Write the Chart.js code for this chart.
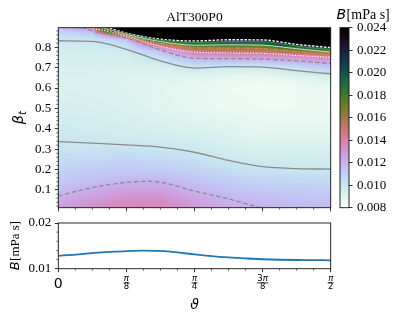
<!DOCTYPE html>
<html>
<head>
<meta charset="utf-8">
<script src="https://cdn.jsdelivr.net/npm/chart.js@4.4.0/dist/chart.umd.min.js"></script>
<style>
  html, body { margin: 0; padding: 0; background: #fff; }
  #wrap { position: relative; width: 397px; height: 322px; }
  #wrap canvas { position: absolute; left: 0; top: 0; }
</style>
</head>
<body>
<div id="wrap">
  <canvas id="main" width="397" height="322"></canvas>
  <canvas id="cbar" width="397" height="322"></canvas>
  <canvas id="line" width="397" height="322"></canvas>
</div>
<script>
// ---- axes / ticks ----
const THETA_MAX = 1.5708;
const THETA_TICKS = [0, 0.392699, 0.785398, 1.178097, 1.570796];
const THETA_NUM = ["0", "π", "π", "3π", "π"];
const THETA_DEN = ["", "8", "4", "8", "2"];
const BETA_MIN = 0.013, BETA_MAX = 0.896;
const BETA_TICKS = [0.1, 0.2, 0.3, 0.4, 0.5, 0.6, 0.7, 0.8];
const CB_MIN = 0.008, CB_MAX = 0.024;
const CB_TICKS = [0.008, 0.010, 0.012, 0.014, 0.016, 0.018, 0.020, 0.022, 0.024];
const LINE_Y_TICKS = [0.01, 0.02];
const LINE_Y_MINOR = [0.012, 0.014, 0.016, 0.018];

// ---- heatmap grid: B [mPa s] ----
const THETA_GRID = [0, 0.19635, 0.39270, 0.58905, 0.78540, 0.98175, 1.17810, 1.37445, 1.57080];
const BETA_GRID = [0, .05, .10, .15, .20, .25, .30, .35, .40, .50, .60, .65, .70, .75, .78, .80, .82, .84, .86, .88, .90];
const B_T0 = [0.0128, 0.0123, 0.0117, 0.0112, 0.0108, 0.0105, 0.01015, 0.00995, 0.0098, 0.0095, 0.0093, 0.0093, 0.0094, 0.0095, 0.0096, 0.0097, 0.0099, 0.01005, 0.0104, 0.0109, 0.0115];
const B_T1 = [0.01343, 0.0129, 0.0122, 0.0115, 0.0111, 0.0106, 0.0102, 0.00988, 0.0097, 0.0094, 0.0093, 0.0093, 0.0094, 0.0095, 0.0096, 0.0097, 0.0099, 0.0102, 0.0108, 0.0120, 0.0138];
const B_T2 = [0.01385, 0.0134, 0.0127, 0.0118, 0.0112, 0.0107, 0.01015, 0.0098, 0.0096, 0.0093, 0.0092, 0.0092, 0.0093, 0.0095, 0.0098, 0.0102, 0.0107, 0.0117, 0.0160, 0.030, 0.035];
const B_T3 = [0.01385, 0.0134, 0.0127, 0.0118, 0.0111, 0.0106, 0.01008, 0.0097, 0.0094, 0.0091, 0.0090, 0.0091, 0.0094, 0.0104, 0.0115, 0.0135, 0.0161, 0.0230, 0.032, 0.035, 0.035];
const B_T4 = [0.01312, 0.0126, 0.01195, 0.0114, 0.0108, 0.0103, 0.0099, 0.0096, 0.0093, 0.0089, 0.0088, 0.0090, 0.0100, 0.0122, 0.0146, 0.0168, 0.0196, 0.0260, 0.033, 0.035, 0.035];
const B_T5 = [0.01245, 0.0120, 0.0115, 0.0110, 0.0104, 0.00995, 0.0096, 0.0093, 0.0091, 0.0087, 0.0086, 0.0088, 0.0097, 0.0125, 0.0150, 0.0167, 0.0190, 0.0233, 0.030, 0.035, 0.035];
const B_T6 = [0.01207, 0.0117, 0.0112, 0.0107, 0.01015, 0.0097, 0.0094, 0.0091, 0.0089, 0.0086, 0.0085, 0.0087, 0.0098, 0.0126, 0.0151, 0.0168, 0.0190, 0.0230, 0.030, 0.035, 0.035];
const B_T7 = [0.0119, 0.01155, 0.0111, 0.0106, 0.01005, 0.0097, 0.0094, 0.0091, 0.0089, 0.0086, 0.0086, 0.0090, 0.0104, 0.0130, 0.0162, 0.0190, 0.0240, 0.030, 0.035, 0.035, 0.035];
const B_T8 = [0.01184, 0.0115, 0.0110, 0.0105, 0.01003, 0.0097, 0.0094, 0.0091, 0.0089, 0.0086, 0.0087, 0.0094, 0.0112, 0.0137, 0.0168, 0.0215, 0.0265, 0.032, 0.035, 0.035, 0.035];
const B_GRID = [B_T0, B_T1, B_T2, B_T3, B_T4, B_T5, B_T6, B_T7, B_T8];

// ---- contour lines (beta position along theta) ----
const LOW_010_X = THETA_GRID;
const LOW_010_Y = [0.337, 0.330, 0.321, 0.310, 0.285, 0.245, 0.214, 0.205, 0.202];
const LOW_012_X = [0, 0.19635, 0.39270, 0.52, 0.58905, 0.78540, 0.98175, 1.17810];
const LOW_012_Y = [0.071, 0.112, 0.137, 0.143, 0.138, 0.095, 0.056, 0.010];
const UP_010_X = THETA_GRID;
const UP_010_Y = [0.832, 0.829, 0.790, 0.733, 0.698, 0.705, 0.703, 0.685, 0.670];
const UP_012_X = [0.135, 0.19635, 0.39270, 0.58905, 0.78540, 0.98175, 1.17810, 1.37445, 1.57080];
const UP_012_Y = [0.900, 0.880, 0.845, 0.787, 0.746, 0.744, 0.742, 0.733, 0.721];
const UP_HI_X = [0.39270, 0.58905, 0.78540, 0.98175, 1.17810, 1.37445, 1.57080];
const UP_014_Y = [0.855, 0.805, 0.776, 0.772, 0.770, 0.760, 0.751];
const UP_016_Y = [0.860, 0.818, 0.797, 0.796, 0.793, 0.779, 0.763];
const UP_018_Y = [0.863, 0.828, 0.810, 0.812, 0.810, 0.793, 0.776];
const UP_020_Y = [0.866, 0.835, 0.823, 0.828, 0.827, 0.806, 0.788];
const UP_022_Y = [0.869, 0.840, 0.831, 0.837, 0.836, 0.814, 0.798];
const UP_START = [0.171, 0.212, 0.235, 0.252, 0.275];   // where each reaches the top edge

// ---- lower panel: B along theta ----
const LINE_THETA = [0, 0.09817, 0.19635, 0.29452, 0.39270, 0.49087, 0.58905, 0.68722, 0.78540,
                    0.88357, 0.98175, 1.07992, 1.17810, 1.27627, 1.37445, 1.47262, 1.57080];
const LINE_B = [0.01282, 0.01307, 0.01343, 0.01366, 0.01385, 0.01395, 0.01388, 0.01357, 0.01312,
                0.01274, 0.01246, 0.01225, 0.01207, 0.01196, 0.01190, 0.01187, 0.01184];

Chart.defaults.font.family = "'Liberation Serif', serif";
Chart.defaults.font.size = 13;
Chart.defaults.color = "#000";

// cubehelix, reversed (white = low, black = high)
function cmap(v) {
    let t = (v - CB_MIN) / (CB_MAX - CB_MIN);
    t = Math.max(0, Math.min(1, t));
    const x = 1 - t;
    const a = x * (1 - x) / 2;
    const phi = 2 * Math.PI * (0.5 / 3 - 1.5 * x);
    const c = Math.cos(phi), s = Math.sin(phi);
    const r = x + a * (-0.14861 * c + 1.78277 * s);
    const g = x + a * (-0.29227 * c - 0.90649 * s);
    const b = x + a * (1.97294 * c);
    const f = (u) => Math.round(255 * Math.max(0, Math.min(1, u)));
    return [f(r), f(g), f(b)];
}

function findCell(arr, v) {
    if (v <= arr[0]) return [0, 0];
    for (let i = 0; i < arr.length - 1; i++) {
        if (v <= arr[i + 1]) return [i, (v - arr[i]) / (arr[i + 1] - arr[i])];
    }
    return [arr.length - 2, 1];
}

// gouraud-like shading of the grid
function sampleGrid(th, be) {
    const [i, fx] = findCell(THETA_GRID, th);
    const [j, fy] = findCell(BETA_GRID, be);
    const v00 = B_GRID[i][j], v10 = B_GRID[i + 1][j];
    const v01 = B_GRID[i][j + 1], v11 = B_GRID[i + 1][j + 1];
    return (v00 * (1 - fx) + v10 * fx) * (1 - fy) + (v01 * (1 - fx) + v11 * fx) * fy;
}

function pts(xs, ys) {
    return xs.map((x, i) => ({ x: x, y: ys[i] }));
}

function contour(xs, ys, color, width, dash) {
    return {
        data: pts(xs, ys),
        showLine: true,
        borderColor: color,
        borderWidth: width,
        borderDash: dash || [],
        pointRadius: 0,
        cubicInterpolationMode: "monotone",
        clip: 0
    };
}

function minorList(step, count, skip) {
    const out = [];
    for (let k = 1; k < count; k++) if (k % skip !== 0) out.push(k * step);
    return out;
}

const THETA_MINOR = minorList(THETA_MAX / 16, 16, 4);
const BETA_MINOR = minorList(0.02, 45, 5);

// ============================
// plugins
// ============================
const heatmapPlugin = {
    id: "heatmap",
    beforeDatasetsDraw(chart) {
        const { ctx, chartArea: a, scales } = chart;
        const x0 = Math.floor(a.left), y0 = Math.floor(a.top);
        const w = Math.ceil(a.right) - x0, h = Math.ceil(a.bottom) - y0;
        const off = document.createElement("canvas");
        off.width = w; off.height = h;
        const octx = off.getContext("2d");
        const img = octx.createImageData(w, h);
        for (let py = 0; py < h; py++) {
            const be = scales.y.getValueForPixel(y0 + py + 0.5);
            for (let px = 0; px < w; px++) {
                const th = scales.x.getValueForPixel(x0 + px + 0.5);
                const c = cmap(sampleGrid(th, be));
                const o = (py * w + px) * 4;
                img.data[o] = c[0]; img.data[o + 1] = c[1]; img.data[o + 2] = c[2]; img.data[o + 3] = 255;
            }
        }
        octx.putImageData(img, 0, 0);
        ctx.save();
        ctx.beginPath();
        ctx.rect(a.left, a.top, a.right - a.left, a.bottom - a.top);
        ctx.clip();
        ctx.drawImage(off, x0, y0);
        ctx.restore();
    }
};

const colorbarPlugin = {
    id: "colorbar",
    beforeDatasetsDraw(chart) {
        const { ctx, chartArea: a, scales } = chart;
        for (let py = Math.floor(a.top); py < Math.ceil(a.bottom); py++) {
            const c = cmap(scales.y.getValueForPixel(py + 0.5));
            ctx.fillStyle = `rgb(${c[0]},${c[1]},${c[2]})`;
            ctx.fillRect(a.left, Math.max(py, a.top), a.right - a.left, 1);
        }
    }
};

const minorPlugin = {
    id: "minor",
    afterDraw(chart, args, opts) {
        const { ctx, chartArea: a, scales } = chart;
        ctx.save();
        ctx.strokeStyle = "#000";
        ctx.lineWidth = 0.6;
        ctx.beginPath();
        for (const v of (opts.x || [])) {
            const px = scales.x.getPixelForValue(v);
            ctx.moveTo(px, a.bottom); ctx.lineTo(px, a.bottom + 2);
        }
        for (const v of (opts.y || [])) {
            const py = scales.y.getPixelForValue(v);
            ctx.moveTo(a.left, py); ctx.lineTo(a.left - 2, py);
        }
        ctx.stroke();
        ctx.restore();
    }
};

const framePlugin = {
    id: "frame",
    afterDraw(chart) {
        const { ctx, chartArea: a } = chart;
        ctx.save();
        ctx.strokeStyle = "#111";
        ctx.lineWidth = 0.9;
        ctx.strokeRect(a.left, a.top, a.right - a.left, a.bottom - a.top);
        ctx.restore();
    }
};

function drawLabelB(ctx, x, y, size, rotate) {
    // italic sans B followed by serif [mPa s], left edge at x (or centred when rotated)
    ctx.save();
    ctx.textBaseline = "alphabetic";
    const fB = `italic ${size}px 'DejaVu Sans'`;
    const fU = `${size}px 'Liberation Serif'`;
    ctx.font = fB; const wB = ctx.measureText("B").width;
    ctx.font = fU; const wU = ctx.measureText("[mPa s]").width;
    ctx.translate(x, y);
    let sx = 0;
    if (rotate) { ctx.rotate(-Math.PI / 2); sx = -(wB + wU) / 2; }
    ctx.font = fB; ctx.fillText("B", sx, 0);
    ctx.font = fU; ctx.fillText("[mPa s]", sx + wB + 0.5, 0);
    ctx.restore();
}

const mainText = {
    id: "mainText",
    afterDraw(chart) {
        const { ctx, chartArea: a } = chart;
        ctx.save();
        ctx.fillStyle = "#000";
        ctx.font = "13.5px 'Liberation Serif'";
        ctx.textAlign = "center";
        ctx.textBaseline = "alphabetic";
        ctx.fillText("AlT300P0", (a.left + a.right) / 2, 21);
        // beta_t
        ctx.translate(23, (a.top + a.bottom) / 2);
        ctx.rotate(-Math.PI / 2);
        ctx.textAlign = "left";
        ctx.font = "italic 14.5px 'DejaVu Sans'";
        const wb = ctx.measureText("β").width;
        ctx.font = "italic 10px 'DejaVu Sans'";
        const wt = ctx.measureText("t").width;
        const sx = -(wb + wt) / 2;
        ctx.font = "italic 14.5px 'DejaVu Sans'";
        ctx.fillText("β", sx, 0);
        ctx.font = "italic 10px 'DejaVu Sans'";
        ctx.fillText("t", sx + wb, 3);
        ctx.restore();
    }
};

const cbarText = {
    id: "cbarText",
    afterDraw(chart) {
        chart.ctx.fillStyle = "#000";
        drawLabelB(chart.ctx, 336.5, 18.5, 14, false);
    }
};

const lineText = {
    id: "lineText",
    afterDraw(chart) {
        const { ctx, chartArea: a, scales } = chart;
        ctx.save();
        ctx.fillStyle = "#000";
        ctx.strokeStyle = "#000";
        ctx.textAlign = "center";
        ctx.textBaseline = "alphabetic";
        THETA_TICKS.forEach((v, i) => {
            const px = scales.x.getPixelForValue(v);
            if (!THETA_DEN[i]) {
                ctx.font = "14px 'DejaVu Sans'";
                ctx.fillText(THETA_NUM[i], px, 287.5);
                return;
            }
            const num = THETA_NUM[i];
            const digits = num.slice(0, -1);
            ctx.font = "8.5px 'DejaVu Sans'";
            const wd = ctx.measureText(digits).width;
            ctx.font = "italic 8.5px 'DejaVu Sans'";
            const wp = ctx.measureText("π").width;
            const wn = wd + wp;
            ctx.textAlign = "left";
            ctx.font = "8.5px 'DejaVu Sans'";
            ctx.fillText(digits, px - wn / 2, 281.3);
            ctx.font = "italic 8.5px 'DejaVu Sans'";
            ctx.fillText("π", px - wn / 2 + wd, 281.3);
            ctx.lineWidth = 0.8;
            ctx.beginPath();
            ctx.moveTo(px - wn / 2 - 0.5, 282.9);
            ctx.lineTo(px + wn / 2 + 0.5, 282.9);
            ctx.stroke();
            ctx.textAlign = "center";
            ctx.font = "8.5px 'DejaVu Sans'";
            ctx.fillText(THETA_DEN[i], px, 289.3);
        });
        ctx.font = "italic 14px 'DejaVu Sans'";
        ctx.fillText("ϑ", (a.left + a.right) / 2, 309);
        ctx.restore();
        drawLabelB(ctx, 19, (a.top + a.bottom) / 2, 13, true);
    }
};

function setTicks(values) {
    return (s) => { s.ticks = values.map(v => ({ value: v })); };
}

const gridOpts = { display: true, drawOnChartArea: false, tickLength: 3.5, tickWidth: 0.8, tickColor: "#000" };

// ============================
// main heatmap + contours
// ============================
const mainSets = [
    contour(LOW_010_X, LOW_010_Y, "#8c8c8c", 1.3),
    contour(LOW_012_X, LOW_012_Y, "#8c8c8c", 1.3, [4.5, 2.5]),
    contour(UP_010_X, UP_010_Y, "#8c8c8c", 1.3),
    contour(UP_012_X, UP_012_Y, "#8c8c8c", 1.3, [4.5, 2.5]),
    contour([UP_START[0]].concat(UP_HI_X), [0.90].concat(UP_014_Y), "#ffffff", 1.2, [1.2, 1.6]),
    contour([UP_START[1]].concat(UP_HI_X), [0.90].concat(UP_016_Y), "#d98a3a", 1.2, [5, 1.5, 1.5, 1.5]),
    contour([UP_START[2]].concat(UP_HI_X), [0.90].concat(UP_018_Y), "rgba(255,255,255,0.9)", 0.8),
    contour([UP_START[3]].concat(UP_HI_X), [0.90].concat(UP_020_Y), "#3d8c47", 1.2),
    contour([UP_START[4]].concat(UP_HI_X), [0.90].concat(UP_022_Y), "#ffffff", 1.3, [2.5, 1.5])
];

new Chart(document.getElementById("main"), {
    type: "scatter",
    data: { datasets: mainSets },
    options: {
        responsive: false,
        animation: false,
        events: [],
        layout: { padding: { left: 18.3, right: 66.3, top: 27.7, bottom: 102.3 } },
        plugins: {
            legend: { display: false },
            tooltip: { enabled: false },
            minor: { x: THETA_MINOR, y: BETA_MINOR }
        },
        scales: {
            x: {
                type: "linear", min: 0, max: THETA_MAX,
                afterBuildTicks: setTicks(THETA_TICKS),
                afterFit: (s) => { s.height = 12; },
                ticks: { display: false },
                grid: gridOpts,
                border: { display: false }
            },
            y: {
                type: "linear", min: BETA_MIN, max: BETA_MAX,
                afterBuildTicks: setTicks(BETA_TICKS),
                afterFit: (s) => { s.width = 40; },
                ticks: { callback: (v) => v.toFixed(1), padding: 3.5, autoSkip: false },
                grid: gridOpts,
                border: { display: false }
            }
        }
    },
    plugins: [heatmapPlugin, minorPlugin, framePlugin, mainText]
});

// ============================
// colorbar
// ============================
new Chart(document.getElementById("cbar"), {
    type: "scatter",
    data: { datasets: [] },
    options: {
        responsive: false,
        animation: false,
        events: [],
        layout: { padding: { left: 340, right: 0, top: 27.7, bottom: 114.3 } },
        plugins: { legend: { display: false }, tooltip: { enabled: false } },
        scales: {
            x: { display: false, min: 0, max: 1 },
            y: {
                type: "linear", position: "right", min: CB_MIN, max: CB_MAX,
                afterBuildTicks: setTicks(CB_TICKS),
                afterFit: (s) => { s.width = 48; },
                ticks: { callback: (v) => v.toFixed(3), padding: 4.5, autoSkip: false },
                grid: gridOpts,
                border: { display: false }
            }
        }
    },
    plugins: [colorbarPlugin, framePlugin, cbarText]
});

// ============================
// lower panel
// ============================
new Chart(document.getElementById("line"), {
    type: "scatter",
    data: {
        datasets: [{
            data: pts(LINE_THETA, LINE_B),
            showLine: true,
            borderColor: "#1f77b4",
            borderWidth: 1.8,
            pointRadius: 0,
            cubicInterpolationMode: "monotone",
            clip: 0
        }]
    },
    options: {
        responsive: false,
        animation: false,
        events: [],
        layout: { padding: { left: 18.3, right: 66.3, top: 223, bottom: 41.3 } },
        plugins: {
            legend: { display: false },
            tooltip: { enabled: false },
            minor: { x: THETA_MINOR, y: LINE_Y_MINOR }
        },
        scales: {
            x: {
                type: "linear", min: 0, max: THETA_MAX,
                afterBuildTicks: setTicks(THETA_TICKS),
                afterFit: (s) => { s.height = 12; },
                ticks: { display: false },
                grid: gridOpts,
                border: { display: false }
            },
            y: {
                type: "linear", min: 0.01, max: 0.02,
                afterBuildTicks: setTicks(LINE_Y_TICKS),
                afterFit: (s) => { s.width = 40; },
                ticks: { callback: (v) => v.toFixed(2), padding: 3.5, autoSkip: false },
                grid: gridOpts,
                border: { display: false }
            }
        }
    },
    plugins: [minorPlugin, framePlugin, lineText]
});
</script>
</body>
</html>
